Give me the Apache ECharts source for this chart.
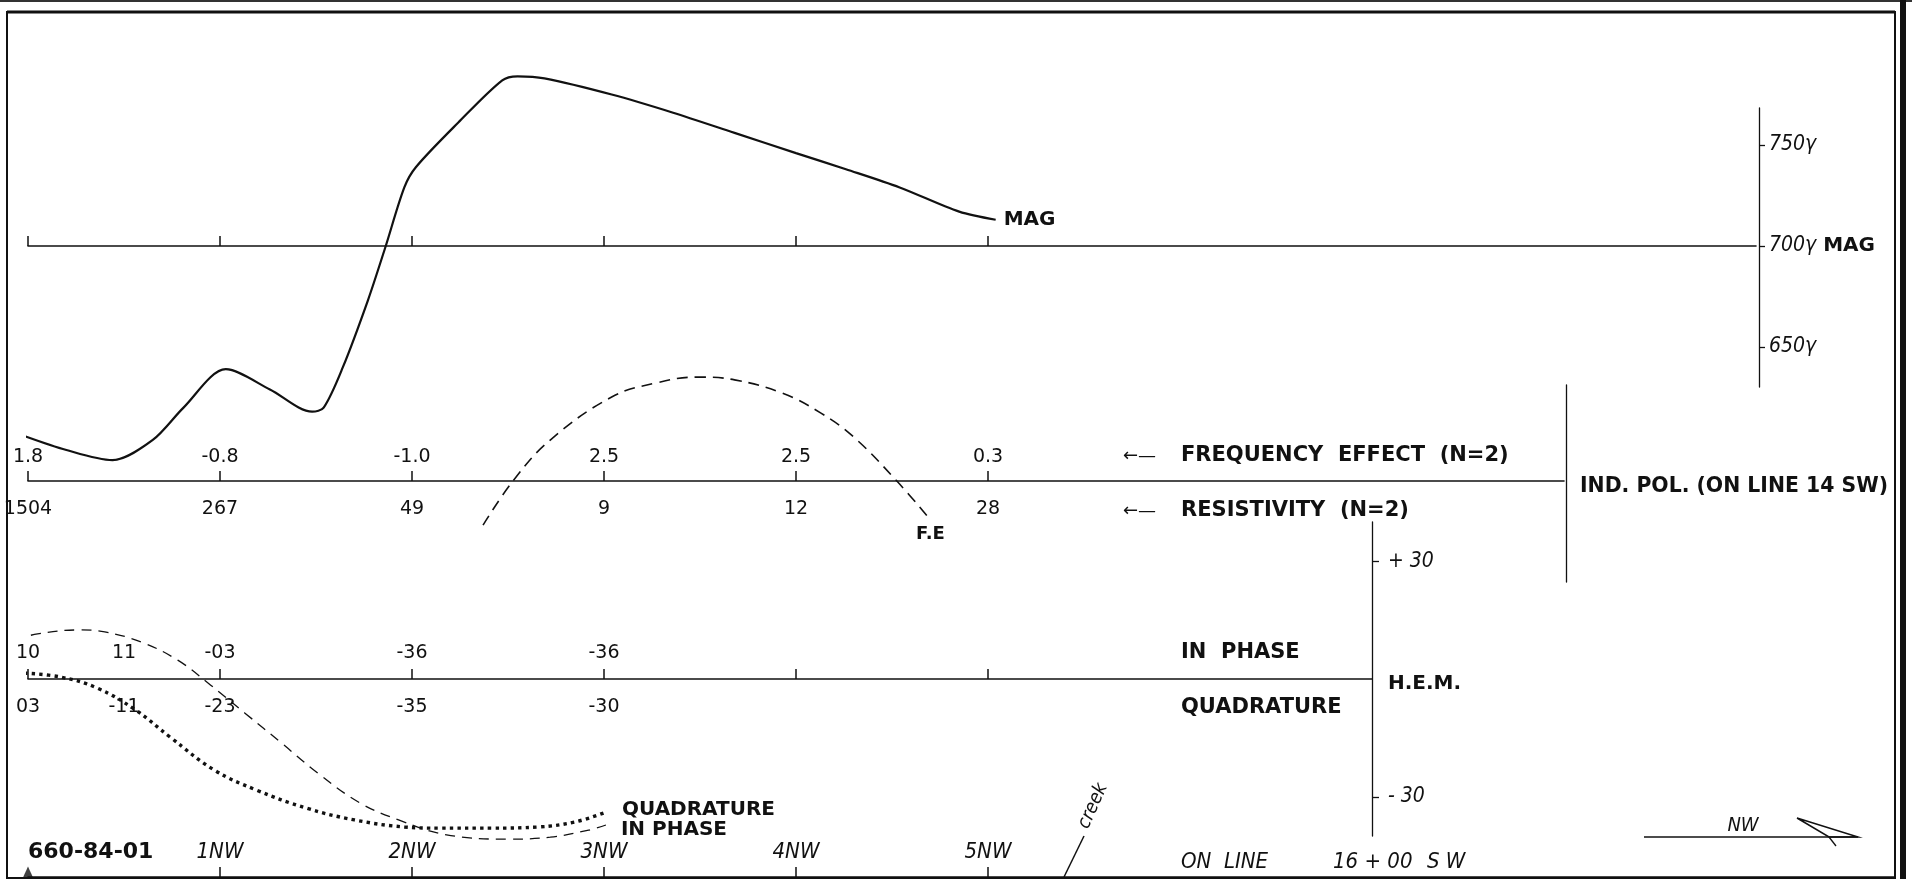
<!DOCTYPE html>
<html><head><meta charset="utf-8">
<script src="https://cdn.jsdelivr.net/npm/echarts@6/dist/echarts.min.js"></script>
<style>html,body{margin:0;padding:0;background:#fff;}#c{width:1912px;height:879px;}</style>
</head><body><div id="c"></div>
<script>
// ---- data ----
const stations = [0, 1, 2, 3, 4, 5];
const stationLabels = ['660-84-01', '1NW', '2NW', '3NW', '4NW', '5NW'];
const startMarker = [[0, 0]];
const magScaleValues = [650, 700, 750];
const magScaleLabels = ['650γ', '700γ', '750γ'];
const magCurve = [[-0.05,607],[0.2,599],[0.44,594],[0.65,604],[0.81,620],[1.03,639],[1.26,629],[1.48,618],[1.54,620],[1.64,640],[1.77,673],[1.86,699],[1.96,729],[2.02,739],[2.24,761],[2.47,782],[2.55,784],[2.69,783],[3.04,775],[3.36,766],[3.68,756],[4.0,746],[4.26,738],[4.54,729],[4.85,717],[5.04,713]];
const feValues = ['1.8', '-0.8', '-1.0', '2.5', '2.5', '0.3'];
const resValues = ['1504', '267', '49', '9', '12', '28'];
const feCurve = [[2.37,-1.26],[2.53,0.03],[2.72,1.17],[3.04,2.4],[3.27,2.8],[3.49,2.97],[3.68,2.89],[3.93,2.51],[4.13,1.94],[4.30,1.26],[4.53,-0.03],[4.70,-1.11]];
const hemLabelStations = [0, 0.5, 1, 2, 3];
const inPhaseValues = ['10', '11', '-03', '-36', '-36'];
const quadValues = ['03', '-11', '-23', '-35', '-30'];
const hemScaleValues = [-30, 0, 30];
const hemScaleLabels = ['- 30', 'H.E.M.', '+ 30'];
const inPhaseCurve = [[-0.07,9.9],[0.05,11.5],[0.27,12.5],[0.40,12.0],[0.59,9.4],[0.78,4.8],[0.95,-1.5],[1.13,-8.7],[1.32,-16.3],[1.51,-24.0],[1.73,-31.6],[1.93,-35.9],[2.18,-39.7],[2.50,-40.8],[2.72,-40.3],[2.92,-38.5],[3.01,-37.2]];
const quadCurve = [[-0.02,1.5],[0.17,0.5],[0.36,-2.3],[0.56,-7.9],[0.74,-14.8],[0.97,-23.2],[1.19,-28.3],[1.45,-32.9],[1.70,-35.9],[1.96,-37.7],[2.15,-38.0],[2.41,-38.0],[2.66,-37.7],[2.85,-36.4],[3.0,-34.1]];

// ---- style ----
const INK = '#111';
const COND = '"DejaVu Sans Condensed","DejaVu Sans",sans-serif';
const SANS = '"DejaVu Sans",sans-serif';
const X0 = 28, STEP = 192;
const lineAxis = {lineStyle: {color: INK, width: 1.6}};
const upTicks = {show: true, inside: true, length: 10, lineStyle: {color: INK, width: 1.5}, customValues: stations};
const numLabel = {color: INK, fontFamily: SANS, fontSize: 19};
const boldLabel = {color: INK, fontFamily: SANS, fontWeight: 'bold', fontSize: 20};

function pick(vals, labels) { return v => { const i = vals.indexOf(v); return i < 0 ? '' : labels[i]; }; }

const chart = echarts.init(document.getElementById('c'), null, {renderer: 'canvas'});
const option = {
  animation: false,
  backgroundColor: '#fff',
  grid: [
    {left: X0, top: 145, width: STEP * 9, height: 101},      // 0 MAG baseline
    {left: X0, top: 108, width: STEP * 9 + 3, height: 279},  // 1 MAG scale
    {left: X0, top: 376, width: STEP * 8, height: 105},      // 2 IP baseline
    {left: X0, top: 376, width: STEP * 8, height: 175},      // 3 FE curve
    {left: X0, top: 385, width: STEP * 8 + 2, height: 197},  // 4 IND POL bar
    {left: X0, top: 522, width: STEP * 7, height: 157},      // 5 HEM baseline
    {left: X0, top: 522, width: STEP * 7, height: 314},      // 6 HEM scale
    {left: X0, top: 800, width: 1867, height: 77}            // 7 station axis
  ],
  xAxis: [
    {type: 'value', gridIndex: 0, min: 0, max: 9, axisLine: lineAxis, axisTick: upTicks, axisLabel: {show: false}, splitLine: {show: false}},
    {type: 'value', gridIndex: 1, min: 0, max: 9, show: false},
    {type: 'value', gridIndex: 2, min: 0, max: 8, axisLine: lineAxis, axisTick: upTicks,
      axisLabel: Object.assign({margin: 19, customValues: stations, formatter: pick(stations, resValues)}, numLabel), splitLine: {show: false}},
    {type: 'value', gridIndex: 2, min: 0, max: 8, position: 'bottom', axisLine: {show: false}, axisTick: {show: false},
      axisLabel: Object.assign({inside: true, margin: 14, customValues: stations, formatter: pick(stations, feValues)}, numLabel), splitLine: {show: false}},
    {type: 'value', gridIndex: 3, min: 0, max: 8, show: false},
    {type: 'value', gridIndex: 4, min: 0, max: 8, show: false},
    {type: 'value', gridIndex: 5, min: 0, max: 7, axisLine: lineAxis, axisTick: upTicks,
      axisLabel: Object.assign({margin: 19, customValues: hemLabelStations, formatter: pick(hemLabelStations, quadValues)}, numLabel), splitLine: {show: false}},
    {type: 'value', gridIndex: 5, min: 0, max: 7, position: 'bottom', axisLine: {show: false}, axisTick: {show: false},
      axisLabel: Object.assign({inside: true, margin: 16, customValues: hemLabelStations, formatter: pick(hemLabelStations, inPhaseValues)}, numLabel), splitLine: {show: false}},
    {type: 'value', gridIndex: 6, min: 0, max: 7, show: false},
    {type: 'value', gridIndex: 7, min: 0, max: 1867 / STEP, axisLine: lineAxis,
      axisTick: Object.assign({}, upTicks, {customValues: stations.slice(1)}),
      axisLabel: {inside: true, margin: 14, customValues: stations, alignMinLabel: 'left',
        formatter: v => { const i = stations.indexOf(v); return i === 0 ? '{b|' + stationLabels[i] + '}' : '{i|' + stationLabels[i] + '}'; },
        rich: {b: {fontFamily: SANS, fontWeight: 'bold', fontSize: 22, color: INK}, i: {fontFamily: COND, fontStyle: 'italic', fontSize: 22, color: INK}}},
      splitLine: {show: false}}
  ],
  yAxis: [
    {type: 'value', gridIndex: 0, min: 700, max: 750, show: false},
    {type: 'value', gridIndex: 1, position: 'right', min: 700 - 141 / 2.02, max: 700 + 138 / 2.02,
      axisLine: {show: true, onZero: false, lineStyle: {color: INK, width: 1.3}},
      axisTick: {show: true, length: 6, customValues: magScaleValues, lineStyle: {color: INK, width: 1.3}},
      axisLabel: {margin: 10, customValues: magScaleValues,
        formatter: v => v === 700 ? '{i|' + pick(magScaleValues, magScaleLabels)(v) + '}{b| MAG}' : '{i|' + pick(magScaleValues, magScaleLabels)(v) + '}',
        rich: {i: {fontFamily: COND, fontStyle: 'italic', fontSize: 21, color: INK}, b: {fontFamily: SANS, fontWeight: 'bold', fontSize: 20, color: INK}}},
      splitLine: {show: false}},
    {type: 'value', gridIndex: 2, min: 0, max: 1, show: false},
    {type: 'value', gridIndex: 3, min: -2, max: 3, show: false},
    {type: 'value', gridIndex: 4, position: 'right', min: 0, max: 1,
      axisLine: {show: true, onZero: false, lineStyle: {color: INK, width: 1.3}}, axisTick: {show: false}, axisLabel: {show: false}, splitLine: {show: false}},
    {type: 'value', gridIndex: 5, min: 0, max: 40, show: false},
    {type: 'value', gridIndex: 6, position: 'right', min: -40, max: 40,
      axisLine: {show: true, onZero: false, lineStyle: {color: INK, width: 1.3}},
      axisTick: {show: true, length: 7, customValues: [-30, 30], lineStyle: {color: INK, width: 1.3}},
      axisLabel: {margin: 16, customValues: hemScaleValues,
        formatter: v => v === 0 ? '{b|' + pick(hemScaleValues, hemScaleLabels)(v) + '}' : '{i|' + pick(hemScaleValues, hemScaleLabels)(v) + '}',
        rich: {i: {fontFamily: COND, fontStyle: 'italic', fontSize: 21, color: INK}, b: {fontFamily: SANS, fontWeight: 'bold', fontSize: 20, color: INK, padding: [10, 0, 0, 0]}}},
      splitLine: {show: false}},
    {type: 'value', gridIndex: 7, min: 0, max: 1, show: false}
  ],
  series: [
    {name: 'MAG', type: 'line', xAxisIndex: 0, yAxisIndex: 0, data: magCurve, smooth: 0.3, symbol: 'none', clip: false,
      lineStyle: {color: INK, width: 2.2},
      endLabel: Object.assign({show: true, formatter: 'MAG', distance: 8}, boldLabel)},
    {name: 'F.E', type: 'line', xAxisIndex: 4, yAxisIndex: 3, data: feCurve, smooth: 0.4, symbol: 'none', clip: false,
      lineStyle: {color: INK, width: 1.6, type: [11, 7]},
      markPoint: {symbol: 'circle', symbolSize: 1, itemStyle: {color: 'rgba(0,0,0,0)'},
        label: Object.assign({show: true, position: 'bottom', distance: 5, formatter: 'F.E'}, boldLabel, {fontSize: 18}),
        data: [{coord: feCurve[feCurve.length - 1]}]}},
    {name: 'IN PHASE', type: 'line', xAxisIndex: 6, yAxisIndex: 5, data: inPhaseCurve, smooth: 0.4, symbol: 'none', clip: false,
      lineStyle: {color: INK, width: 1.3, type: [10, 7]},
      endLabel: Object.assign({show: true, formatter: 'IN PHASE', distance: 15, offset: [0, 5]}, boldLabel)},
    {name: 'QUADRATURE', type: 'line', xAxisIndex: 6, yAxisIndex: 5, data: quadCurve, smooth: 0.4, symbol: 'none', clip: false,
      lineStyle: {color: INK, width: 3.4, type: [3.4, 4.2]},
      endLabel: Object.assign({show: true, formatter: 'QUADRATURE', distance: 18, offset: [0, -3]}, boldLabel)},
    {name: 'start', type: 'scatter', xAxisIndex: 9, yAxisIndex: 7, data: startMarker, symbol: 'triangle', symbolSize: [10, 11],
      symbolOffset: [0, -5], itemStyle: {color: INK}, clip: false, silent: true}
  ],
  graphic: [
    {type: 'rect', shape: {x: 7, y: 12, width: 1888, height: 866}, style: {fill: 'none', stroke: INK, lineWidth: 2}, silent: true},
    {type: 'line', shape: {x1: 7, y1: 12, x2: 1895, y2: 12}, style: {stroke: INK, lineWidth: 3}, silent: true},
    {type: 'line', shape: {x1: 0, y1: 1, x2: 1912, y2: 1}, style: {stroke: '#333', lineWidth: 2}, silent: true},
    {type: 'line', shape: {x1: 1903, y1: 0, x2: 1903, y2: 879}, style: {stroke: INK, lineWidth: 6}, silent: true},
    {type: 'text', x: 1123, y: 456, style: {text: '←—', fill: INK, font: '18px ' + SANS, textVerticalAlign: 'middle'}},
    {type: 'text', x: 1181, y: 456, style: {text: 'FREQUENCY  EFFECT  (N=2)', fill: INK, font: 'bold 21px ' + SANS, textVerticalAlign: 'middle'}},
    {type: 'text', x: 1123, y: 511, style: {text: '←—', fill: INK, font: '18px ' + SANS, textVerticalAlign: 'middle'}},
    {type: 'text', x: 1181, y: 511, style: {text: 'RESISTIVITY  (N=2)', fill: INK, font: 'bold 21px ' + SANS, textVerticalAlign: 'middle'}},
    {type: 'text', x: 1580, y: 487, style: {text: 'IND. POL. (ON LINE 14 SW)', fill: INK, font: 'bold 20.4px ' + SANS, textVerticalAlign: 'middle'}},
    {type: 'text', x: 1181, y: 653, style: {text: 'IN  PHASE', fill: INK, font: 'bold 21px ' + SANS, textVerticalAlign: 'middle'}},
    {type: 'text', x: 1181, y: 708, style: {text: 'QUADRATURE', fill: INK, font: 'bold 21px ' + SANS, textVerticalAlign: 'middle'}},
    {type: 'text', x: 1181, y: 862, style: {text: 'ON  LINE', fill: INK, font: 'italic 22px ' + COND, textVerticalAlign: 'middle'}},
    {type: 'text', x: 1333, y: 862, style: {text: '16 + 00', fill: INK, font: 'italic 22px ' + COND, textVerticalAlign: 'middle'}},
    {type: 'text', x: 1427, y: 862, style: {text: 'S W', fill: INK, font: 'italic 22px ' + COND, textVerticalAlign: 'middle'}},
    {type: 'line', shape: {x1: 1064, y1: 877, x2: 1084, y2: 836}, style: {stroke: INK, lineWidth: 1.5}},
    {type: 'text', x: 1093, y: 806, rotation: 1.15, style: {text: 'creek', fill: INK, font: 'italic 19px ' + COND, textAlign: 'center', textVerticalAlign: 'middle'}},
    {type: 'line', shape: {x1: 1644, y1: 837, x2: 1858, y2: 837}, style: {stroke: INK, lineWidth: 1.5}},
    {type: 'polyline', shape: {points: [[1797, 818], [1858, 837], [1829, 837], [1797, 818]]}, style: {stroke: INK, lineWidth: 1.5, fill: 'none'}},
    {type: 'line', shape: {x1: 1829, y1: 837, x2: 1836, y2: 846}, style: {stroke: INK, lineWidth: 1.3}},
    {type: 'text', x: 1743, y: 826, style: {text: 'NW', fill: INK, font: 'italic 20px ' + COND, textAlign: 'center', textVerticalAlign: 'middle'}}
  ]
};
chart.setOption(option);
</script>
</body></html>
